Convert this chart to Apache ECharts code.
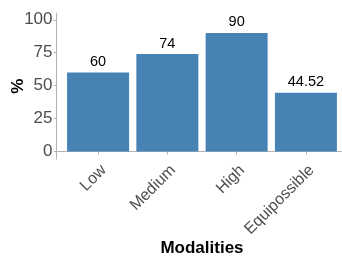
<!DOCTYPE html>
<html>
<head>
<meta charset="utf-8">
<script src="https://cdn.jsdelivr.net/npm/echarts@6/dist/echarts.min.js"></script>
<style>
  html, body { margin: 0; padding: 0; background: #ffffff; }
  #chart { width: 342px; height: 259px; }
</style>
</head>
<body>
<div id="chart"></div>
<script>
  const categories = ['Low', 'Medium', 'High', 'Equipossible'];
  const positions = [1, 2, 3, 4];
  const values = [60, 74, 90, 44.52];
  const yTicks = [0, 25, 50, 75, 100];

  const chart = echarts.init(document.getElementById('chart'));
  chart.setOption({
    animation: false,
    grid: {
      left: 56.5,
      top: 13.2,
      width: 291,
      height: 145.9,
      containLabel: false,
      outerBoundsMode: 'none',
    },
    xAxis: {
      type: 'value',
      min: 0.4,
      max: 4.6,
      name: 'Modalities',
      nameLocation: 'middle',
      nameGap: 81,
      nameMoveOverlap: false,
      nameTextStyle: {
        color: '#000000',
        fontSize: 17,
        fontWeight: 'bold',
        fontFamily: 'Liberation Sans',
      },
      splitLine: { show: false },
      axisLine: { show: true, lineStyle: { color: '#b3b3b3', width: 1 } },
      axisTick: {
        show: true,
        length: 3,
        customValues: positions,
        lineStyle: { color: '#b3b3b3' },
      },
      axisLabel: {
        customValues: positions,
        rotate: 45,
        margin: 3,
        verticalAlign: 'top',
        color: '#4d4d4d',
        fontSize: 16,
        fontFamily: 'Liberation Sans',
        formatter: function (value) {
          return categories[Math.round(value) - 1] || '';
        },
      },
    },
    yAxis: {
      type: 'value',
      min: -5.8,
      max: 105,
      name: '%',
      nameLocation: 'middle',
      nameGap: 30,
      nameMoveOverlap: false,
      nameTextStyle: {
        color: '#000000',
        fontSize: 17,
        fontWeight: 'bold',
        fontFamily: 'Liberation Sans',
      },
      splitLine: { show: false },
      axisLine: { show: true, lineStyle: { color: '#b3b3b3', width: 1 } },
      axisTick: {
        show: true,
        length: 3,
        customValues: yTicks,
        lineStyle: { color: '#b3b3b3' },
      },
      axisLabel: {
        customValues: yTicks,
        margin: 4,
        color: '#4d4d4d',
        fontSize: 17,
        fontFamily: 'Liberation Sans',
      },
    },
    series: [
      {
        type: 'bar',
        data: positions.map((p, i) => [p, values[i]]),
        barWidth: 62,
        itemStyle: { color: '#4682b4' },
        label: {
          show: true,
          position: 'top',
          distance: 3,
          color: '#000000',
          fontSize: 14.5,
          fontFamily: 'Liberation Sans',
          formatter: function (p) {
            return p.value[1];
          },
        },
      },
    ],
  });
</script>
</body>
</html>
